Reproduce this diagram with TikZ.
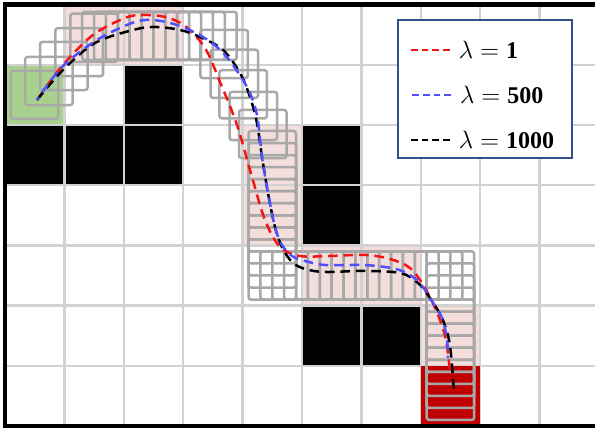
\documentclass[tikz,border=0pt]{standalone}
\usepackage{fontspec}
\setmainfont{Liberation Serif}
\usepackage{tikz}
\usetikzlibrary{positioning}
\usepackage{xcolor}
\definecolor{gridgray}{RGB}{210,210,210}
\definecolor{footgray}{RGB}{168,168,168}
\definecolor{cellpink}{RGB}{243,222,220}
\definecolor{startgreen}{RGB}{169,209,142}
\definecolor{goalred}{RGB}{192,0,0}
\definecolor{lamred}{RGB}{245,20,20}
\definecolor{lamblue}{RGB}{80,80,255}
\definecolor{legendblue}{RGB}{47,82,143}

\begin{document}
\begin{tikzpicture}[x=1cm, y=1.0135cm, font=\fontsize{11.5}{13}\selectfont,
  foot/.style={draw=footgray, line width=1.2pt, rounded corners=1.2pt},
  traj/.style={dash pattern=on 4.6pt off 2.8pt, line width=1.2pt},
  sample/.style={dash pattern=on 3.3pt off 1.9pt, line width=1.1pt},
  entry/.style={anchor=west, inner sep=1pt}]
\useasboundingbox (-0.084,-0.116) rectangle (9.933,7.076);

\fill[startgreen] (0,5) rectangle ++(1,1);
\foreach \x/\y in {1/6,2/6,4/4,4/3,5/2,6/2,7/1} \fill[cellpink] (\x,\y) rectangle ++(1,1);
\foreach \x/\y in {2/5,0/4,1/4,2/4,5/4,5/3,5/1,6/1} \fill[black] (\x,\y) rectangle ++(1,1);
\foreach \x in {1,...,9} \draw[gridgray, line width=1.2pt] (\x,0) -- (\x,7);
\foreach \y in {1,...,6} \draw[gridgray, line width=1.2pt] (0,\y) -- (9.933,\y);
\fill[goalred] (7,0) rectangle ++(1,1);
\draw[line width=2.2pt] (9.933,7) -- (0,7) -- (0,0) -- (9.933,0);

\foreach \x/\y in {0.5/5.5,0.74/5.73,0.99/5.98,1.25/6.21,1.5/6.45,3.69/6.18,3.86/5.85,4.01/5.51,4.18/5.15,4.34/4.85}
  \draw[foot] (\x-0.4,\y-0.4) rectangle ++(0.8,0.8);
\foreach \i in {0,...,9} \draw[foot] ({1.3+0.2*\i},6.08) rectangle ++(0.8,0.8);
\foreach \i in {0,...,10} \draw[foot] (4.1,{4.1-0.2*\i}) rectangle ++(0.8,0.8);
\foreach \i in {1,...,15} \draw[foot] ({4.1+0.2*\i},2.1) rectangle ++(0.8,0.8);
\foreach \i in {1,...,10} \draw[foot] (7.1,{2.1-0.2*\i}) rectangle ++(0.8,0.8);

\draw[traj, lamred] plot[smooth, tension=0.55] coordinates {(0.539,5.415) (0.976,5.997) (1.481,6.495) (2.020,6.777) (2.323,6.827) (2.694,6.794) (3.030,6.645) (3.367,6.279) (3.620,5.714) (3.906,5.0) (4.158,4.136) (4.377,3.422) (4.630,2.973) (4.966,2.824) (5.471,2.824) (6.061,2.841) (6.481,2.774) (6.818,2.625) (7.071,2.292) (7.290,1.844) (7.424,1.429) (7.492,0.897)};
\draw[traj, black] plot[smooth, tension=0.55] coordinates {(0.539,5.415) (0.976,5.914) (1.515,6.362) (2.155,6.578) (2.525,6.628) (2.946,6.578) (3.283,6.462) (3.670,6.246) (3.956,5.864) (4.125,5.465) (4.242,5.033) (4.327,4.468) (4.428,3.870) (4.545,3.306) (4.663,2.973) (4.832,2.724) (5.051,2.608) (5.387,2.558) (6.010,2.575) (6.650,2.542) (6.953,2.375) (7.155,2.126) (7.357,1.794) (7.475,1.429) (7.525,1.013) (7.559,0.548)};
\draw[traj, lamblue, dash phase=3pt] plot[smooth, tension=0.55] coordinates {(0.539,5.415) (0.960,5.963) (1.549,6.412) (2.138,6.694) (2.475,6.744) (2.896,6.661) (3.333,6.462) (3.704,6.163) (4.074,5.631) (4.242,5.166) (4.327,4.468) (4.428,3.870) (4.545,3.306) (4.663,3.007) (4.832,2.824) (5.051,2.741) (5.387,2.674) (6.010,2.674) (6.397,2.641) (6.684,2.575) (6.953,2.409) (7.155,2.126) (7.357,1.794) (7.441,1.429) (7.458,1.130)};

\node[draw=legendblue, fill=white, line width=1pt, minimum width=2.93cm, minimum height=2.32cm] (legend) at (8.08,5.6) {};
\node[entry] (lam1) at (7.60,6.245) {$\lambda=\textbf{1}$};
\node[entry] (lam2) at (7.62,5.498) {$\lambda=\textbf{500}$};
\node[entry] (lam3) at (7.60,4.751) {$\lambda=\textbf{1000}$};
\draw[sample, lamred] ([xshift=-3pt]lam1.west) -- ++(-0.7,0);
\draw[sample, lamblue] ([xshift=-3pt]lam2.west) -- ++(-0.7,0);
\draw[sample, black] ([xshift=-3pt]lam3.west) -- ++(-0.7,0);
\end{tikzpicture}
\end{document}
